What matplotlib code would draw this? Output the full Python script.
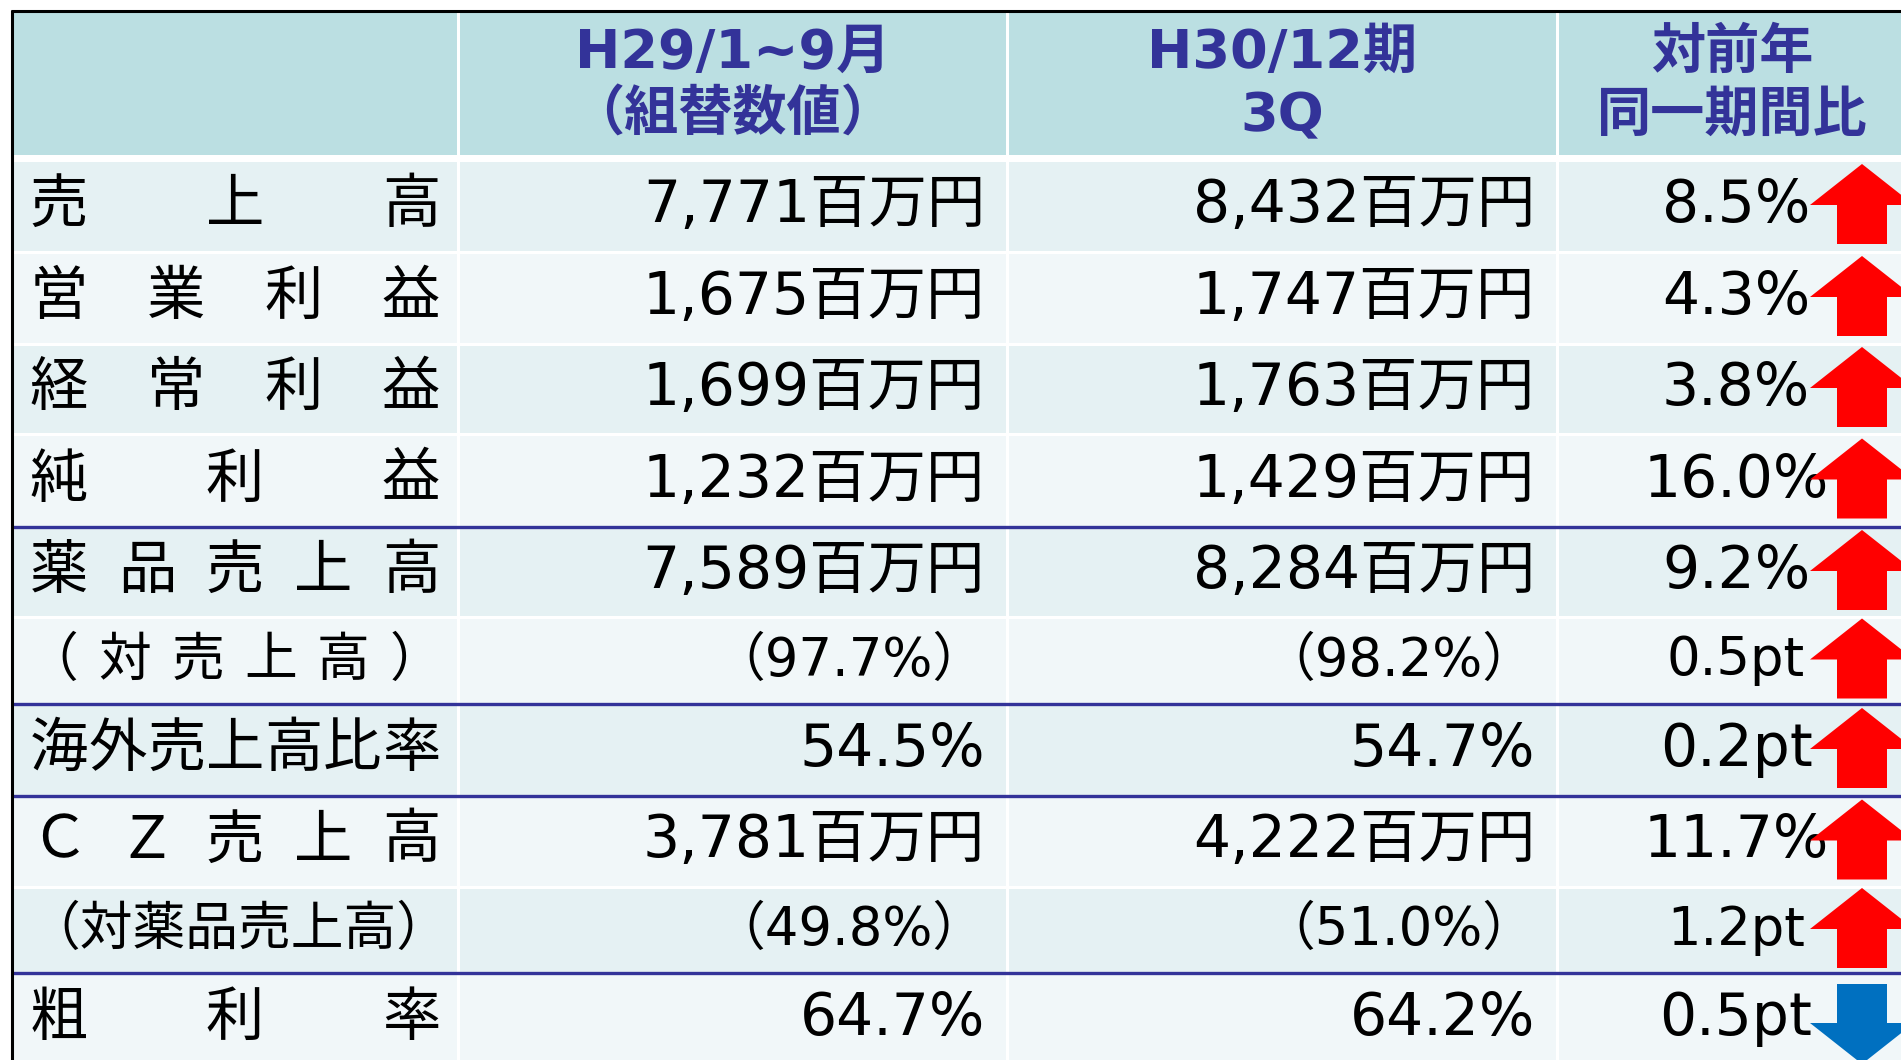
"""Recreate the H29 vs H30 3Q results table (with up/down arrows) as out.png."""

from __future__ import annotations

import matplotlib

matplotlib.use("Agg")
import matplotlib.pyplot as plt
from matplotlib.patches import Polygon, Rectangle

# --- data -------------------------------------------------------------------
HEADERS = ["", "H29/1~9月\n（組替数値）", "H30/12期\n3Q", "対前年\n同一期間比"]
LABELS = [
    "売上高",
    "営業利益",
    "経常利益",
    "純利益",
    "薬品売上高",
    "（対売上高）",
    "海外売上高比率",
    "ＣＺ売上高",
    "（対薬品売上高）",
    "粗利率",
]
PREV = [7771, 1675, 1699, 1232, 7589, 97.7, 54.5, 3781, 49.8, 64.7]
CURR = [8432, 1747, 1763, 1429, 8284, 98.2, 54.7, 4222, 51.0, 64.2]
KIND = ["yen", "yen", "yen", "yen", "yen", "ratio", "pct", "yen", "ratio", "pct"]
YOY = [8.5, 4.3, 3.8, 16.0, 9.2, 0.5, 0.2, 11.7, 1.2, 0.5]
YOY_UNIT = ["%", "%", "%", "%", "%", "pt", "pt", "%", "pt", "pt"]
DIRECTION = ["up", "up", "up", "up", "up", "up", "up", "up", "up", "down"]

# --- layout / style (pixels) --------------------------------------------------
W, H = 1901, 1060
COL_EDGES = [12, 458, 1007, 1557, 1907]
HEADER_TOP, HEADER_BOTTOM = 12, 155
ROW_TOP = 160
ROW_H = [92, 92, 90, 93, 90, 87, 92, 91, 86, 92]
BLUE_RULES_AFTER = [3, 5, 6, 8]  # blue line below these row indices
SUB_ROWS = {5, 8}

HEADER_BG = "#BBDFE2"
ROW_DARK = "#E5F1F3"
ROW_LIGHT = "#F1F7F9"
NAVY = "#333399"
UP_RED = "#FF0000"
DOWN_BLUE = "#0070C0"

CJK = ["Noto Sans CJK JP"]
MIXED = ["DejaVu Sans", "Noto Sans CJK JP"]
MAIN_PT = 42
SUB_PT = 38
HEAD_PT = 39


def fmt_value(v, kind):
    if kind == "yen":
        return f"{v:,}百万円"
    if kind == "ratio":
        return f"（{v:.1f}%）"
    return f"{v:.1f}%"


def arrow(ax, cx, cy, up, color):
    hw, sw, h, hh = 52, 25, 80, 41
    top = cy - h / 2
    if up:
        pts = [(cx, top), (cx + hw, top + hh), (cx + sw, top + hh), (cx + sw, top + h),
               (cx - sw, top + h), (cx - sw, top + hh), (cx - hw, top + hh)]
    else:
        bot = top + h
        pts = [(cx, bot), (cx + hw, bot - hh), (cx + sw, bot - hh), (cx + sw, top),
               (cx - sw, top), (cx - sw, bot - hh), (cx - hw, bot - hh)]
    ax.add_patch(Polygon(pts, closed=True, facecolor=color, edgecolor="none", zorder=6))


def spread_label(ax, text, y, size, x0, x1):
    n = len(text)
    step = (x1 - x0) / (n - 1)
    for i, ch in enumerate(text):
        ax.text(x0 + i * step, y, ch, ha="center", va="baseline", fontsize=size,
                family=CJK, color="black", zorder=5)


def main() -> None:
    fig = plt.figure(figsize=(W / 100, H / 100), dpi=100)
    fig.patch.set_facecolor("white")
    ax = fig.add_axes([0, 0, 1, 1])
    ax.set_xlim(0, W)
    ax.set_ylim(H, 0)
    ax.axis("off")

    g = 1.5  # half of the white gap between cells

    # header
    for c in range(4):
        x0, x1 = COL_EDGES[c], COL_EDGES[c + 1]
        ax.add_patch(Rectangle((x0 + g, HEADER_TOP), x1 - x0 - 2 * g, HEADER_BOTTOM - HEADER_TOP,
                               facecolor=HEADER_BG, edgecolor="none", zorder=1))
        if HEADERS[c]:
            l1, l2 = HEADERS[c].split("\n")
            cx = (x0 + x1) / 2
            for txt, yb in ((l1, 68), (l2, 131)):
                ax.text(cx, yb, txt, ha="center", va="baseline", fontsize=HEAD_PT,
                        fontweight="bold", family=MIXED, color=NAVY, zorder=5)

    # body rows
    top = ROW_TOP
    tops = []
    for r in range(len(LABELS)):
        h = ROW_H[r]
        tops.append(top)
        bg = ROW_DARK if r % 2 == 0 else ROW_LIGHT
        for c in range(4):
            x0, x1 = COL_EDGES[c], COL_EDGES[c + 1]
            ax.add_patch(Rectangle((x0 + g, top + g), x1 - x0 - 2 * g, h - 2 * g,
                                   facecolor=bg, edgecolor="none", zorder=1))
        cy = top + h / 2
        sub = r in SUB_ROWS
        size = SUB_PT if sub else MAIN_PT
        base = cy + (15 if sub else 16)

        lab = LABELS[r]
        if lab == "（対薬品売上高）":
            ax.text(27, base, lab, ha="left", va="baseline", fontsize=size,
                    family=CJK, color="black", zorder=5)
        elif sub:
            spread_label(ax, lab, base, size, 52, 416)
        else:
            spread_label(ax, lab, base, size, 59, 411)

        ax.text(COL_EDGES[2] - 22, base, fmt_value(PREV[r], KIND[r]), ha="right",
                va="baseline", fontsize=size, family=MIXED, color="black", zorder=5)
        ax.text(COL_EDGES[3] - 22, base, fmt_value(CURR[r], KIND[r]), ha="right",
                va="baseline", fontsize=size, family=MIXED, color="black", zorder=5)
        ax.text(1736, base, f"{YOY[r]:.1f}{YOY_UNIT[r]}", ha="center",
                va="baseline", fontsize=size, family=MIXED, color="black", zorder=5)

        up = DIRECTION[r] == "up"
        arrow(ax, 1862, cy + (-2 if up else 5), up, UP_RED if up else DOWN_BLUE)
        top += h

    # blue separators between row groups
    for r in BLUE_RULES_AFTER:
        y = tops[r] + ROW_H[r]
        ax.plot([COL_EDGES[0], W], [y, y], color=NAVY, lw=2.4, zorder=4,
                solid_capstyle="butt")

    # outer black border (top and left)
    ax.plot([11, W], [11, 11], color="black", lw=2.2, zorder=7, solid_capstyle="butt")
    ax.plot([12, 12], [10, H], color="black", lw=2.2, zorder=7, solid_capstyle="butt")

    fig.savefig("out.png", dpi=100)
    plt.close(fig)


if __name__ == "__main__":
    main()
